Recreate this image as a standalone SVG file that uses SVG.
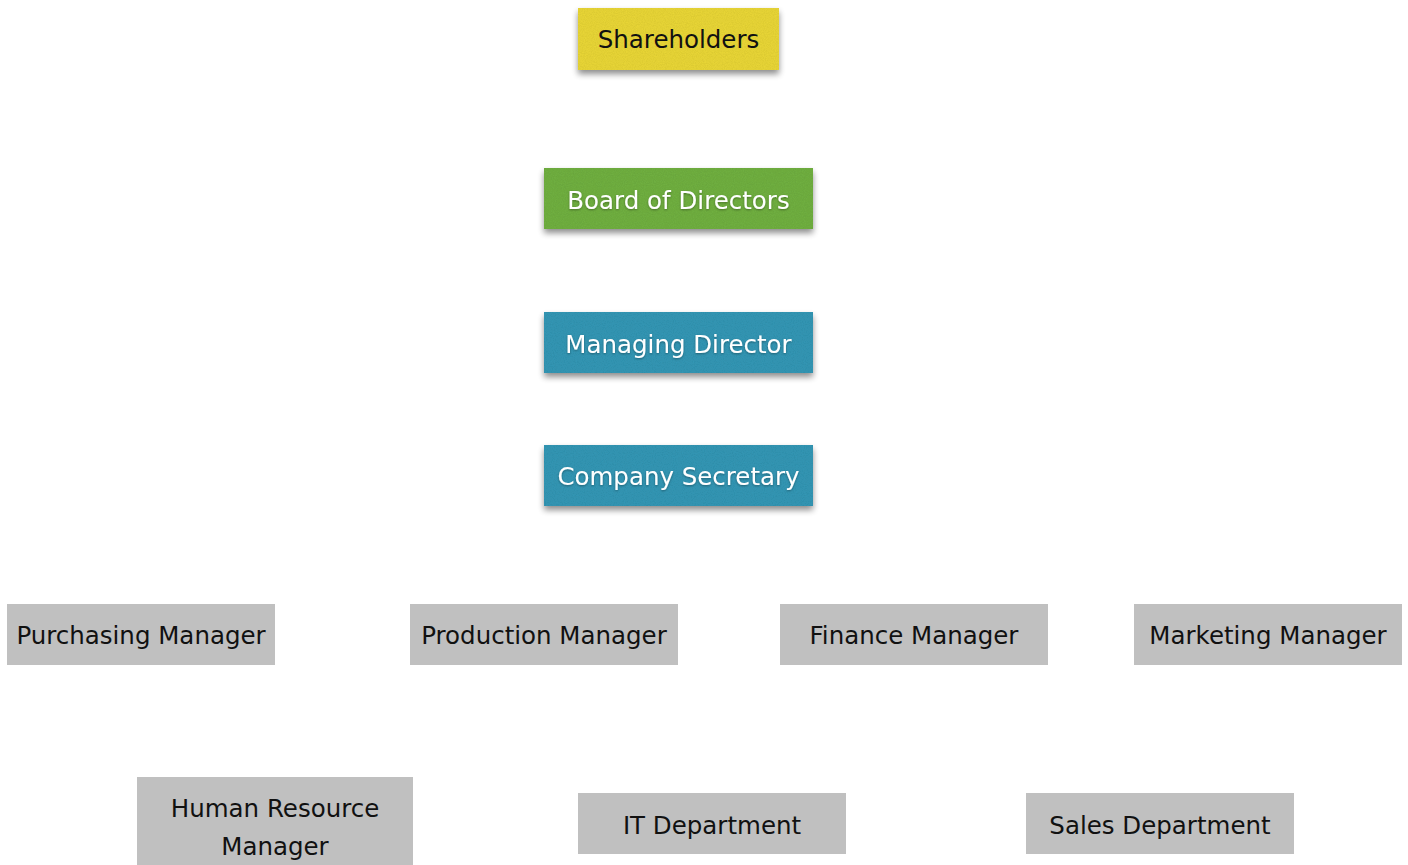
<svg xmlns="http://www.w3.org/2000/svg" width="1408" height="865" viewBox="0 0 1408 865">
  <defs>
    <!-- felt-like grain plus a soft drop shadow for the coloured notes -->
    <filter id="felt" x="-5%" y="-10%" width="112%" height="135%">
      <feTurbulence type="fractalNoise" baseFrequency="0.9" numOctaves="2" seed="3" result="noise"/>
      <feColorMatrix in="noise" type="matrix" values="0 0 0 0 0  0 0 0 0 0  0 0 0 0 0  0 0 0 0.18 0" result="grain"/>
      <feComposite in="grain" in2="SourceGraphic" operator="in" result="grainClip"/>
      <feMerge result="textured">
        <feMergeNode in="SourceGraphic"/>
        <feMergeNode in="grainClip"/>
      </feMerge>
      <feGaussianBlur in="SourceAlpha" stdDeviation="3"/>
      <feOffset dx="0" dy="4" result="blur"/>
      <feComponentTransfer in="blur" result="shadow">
        <feFuncA type="linear" slope="0.45"/>
      </feComponentTransfer>
      <feMerge>
        <feMergeNode in="shadow"/>
        <feMergeNode in="textured"/>
      </feMerge>
    </filter>
    <filter id="textShadow" x="-5%" y="-20%" width="110%" height="150%">
      <feDropShadow dx="0" dy="1" stdDeviation="1" flood-color="#000" flood-opacity="0.35"/>
    </filter>
  </defs>
  <style>
    text { font-family: "Comic Sans MS", "DejaVu Sans", sans-serif; font-size: 24.5px; text-anchor: middle; }
    .dark { fill: #111; }
    .light { fill: #fff; }
    .yellow { fill: #ecd938; }
    .green { fill: #72b242; }
    .teal { fill: #3499b7; }
    .grey { fill: #c0c0c0; }
  </style>
  <rect width="1408" height="865" fill="#fff"/>

  <g id="connectors"></g>

  <g id="shareholders">
    <rect class="yellow" x="578" y="8" width="201" height="62" filter="url(#felt)"/>
    <text class="dark" x="678.5" y="48">Shareholders</text>
  </g>
  <g id="board-of-directors">
    <rect class="green" x="544" y="168" width="269" height="61" filter="url(#felt)"/>
    <text class="light" x="678.5" y="209" filter="url(#textShadow)">Board of Directors</text>
  </g>
  <g id="managing-director">
    <rect class="teal" x="544" y="312" width="269" height="61" filter="url(#felt)"/>
    <text class="light" x="678.5" y="353" filter="url(#textShadow)">Managing Director</text>
  </g>
  <g id="company-secretary">
    <rect class="teal" x="544" y="445" width="269" height="61" filter="url(#felt)"/>
    <text class="light" x="678.5" y="485" filter="url(#textShadow)">Company Secretary</text>
  </g>

  <g id="purchasing-manager">
    <rect class="grey" x="7" y="604" width="268" height="61"/>
    <text class="dark" x="141" y="644">Purchasing Manager</text>
  </g>
  <g id="production-manager">
    <rect class="grey" x="410" y="604" width="268" height="61"/>
    <text class="dark" x="544" y="644">Production Manager</text>
  </g>
  <g id="finance-manager">
    <rect class="grey" x="780" y="604" width="268" height="61"/>
    <text class="dark" x="914" y="644">Finance Manager</text>
  </g>
  <g id="marketing-manager">
    <rect class="grey" x="1134" y="604" width="268" height="61"/>
    <text class="dark" x="1268" y="644">Marketing Manager</text>
  </g>

  <g id="human-resource-manager">
    <rect class="grey" x="137" y="777" width="276" height="90"/>
    <text class="dark" x="275" y="817">Human Resource</text>
    <text class="dark" x="275" y="855">Manager</text>
  </g>
  <g id="it-department">
    <rect class="grey" x="578" y="793" width="268" height="61"/>
    <text class="dark" x="712" y="834">IT Department</text>
  </g>
  <g id="sales-department">
    <rect class="grey" x="1026" y="793" width="268" height="61"/>
    <text class="dark" x="1160" y="834">Sales Department</text>
  </g>
</svg>
